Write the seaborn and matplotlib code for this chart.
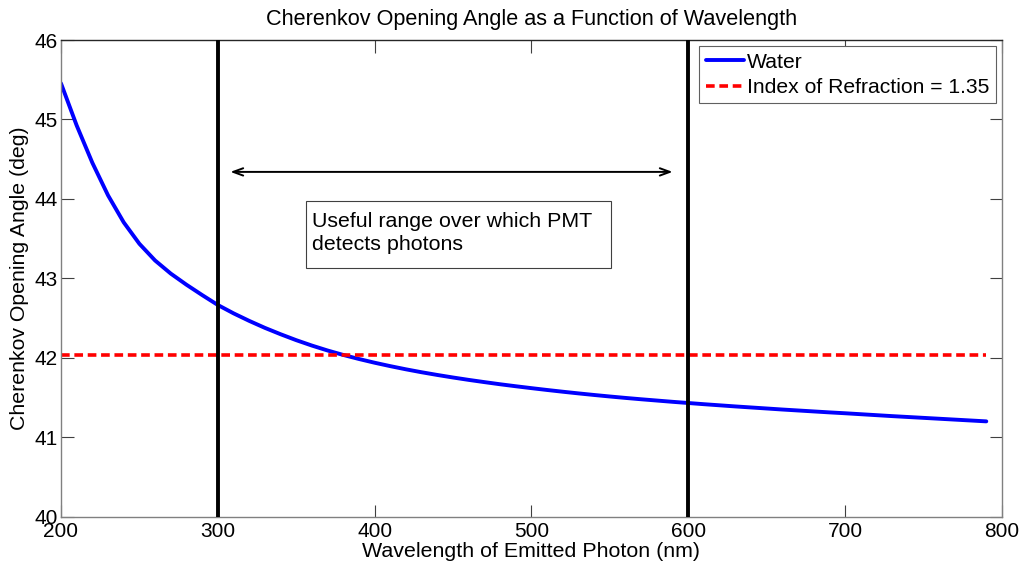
import matplotlib
matplotlib.use("Agg")
import matplotlib.pyplot as plt
from matplotlib.patches import Rectangle
import seaborn as sns
import pandas as pd

# ---- data ----
wavelength = list(range(200, 800, 10))
water_angle = [45.455, 44.925, 44.455, 44.045, 43.705, 43.435, 43.225, 43.060, 42.920, 42.790,
               42.665, 42.560, 42.465, 42.377, 42.297, 42.222, 42.154, 42.092, 42.036, 41.985,
               41.938, 41.895, 41.855, 41.818, 41.784, 41.752, 41.722, 41.694, 41.667, 41.642,
               41.618, 41.595, 41.573, 41.552, 41.532, 41.513, 41.495, 41.478, 41.462, 41.446,
               41.431, 41.416, 41.402, 41.388, 41.375, 41.362, 41.349, 41.337, 41.325, 41.313,
               41.302, 41.290, 41.278, 41.266, 41.255, 41.244, 41.233, 41.222, 41.211, 41.200]
index_angle = [42.03] * len(wavelength)
pmt_limits = [300, 600]
arrow_span = [308, 590]
arrow_y = 44.34
note_xy = (360, 43.36)           # baseline of last text line
note_box = (356, 43.132, 195, 0.847)   # x, y, width, height in data units
xticks = [200, 300, 400, 500, 600, 700, 800]
yticks = [40, 41, 42, 43, 44, 45, 46]

title = "Cherenkov Opening Angle as a Function of Wavelength"
xlabel = "Wavelength of Emitted Photon (nm)"
ylabel = "Cherenkov Opening Angle (deg)"
note = "Useful range over which PMT\ndetects photons"
labels = ["Water", "Index of Refraction = 1.35"]

df = pd.DataFrame({"wavelength": wavelength, "water": water_angle, "index": index_angle})

sns.set_theme(style="white")
plt.rcParams["font.family"] = ["Liberation Sans", "DejaVu Sans"]
plt.rcParams.update({"text.color": "black", "axes.labelcolor": "black",
                     "xtick.color": "black", "ytick.color": "black"})

fig = plt.figure(figsize=(10.30, 5.66), dpi=100)
ax = fig.add_axes([0.0592, 0.0871, 0.9136, 0.8422])

sns.lineplot(data=df, x="wavelength", y="water", ax=ax, color="#0000ff",
             linewidth=2.8, label=labels[0])
sns.lineplot(data=df, x="wavelength", y="index", ax=ax, color="#ff0000",
             linewidth=2.6, label=labels[1])
ax.lines[1].set_dashes((2.4, 1.3))

for xv in pmt_limits:
    ax.axvline(xv, color="black", linewidth=2.8, zorder=3)

ax.annotate("", xy=(arrow_span[0], arrow_y), xytext=(arrow_span[1], arrow_y),
            arrowprops=dict(arrowstyle="<->,head_length=0.6,head_width=0.22",
                            color="black", lw=1.4, shrinkA=0, shrinkB=0))
ax.add_patch(Rectangle((note_box[0], note_box[1]), note_box[2], note_box[3],
                       facecolor="white", edgecolor="#404040", linewidth=0.8,
                       zorder=4))
ax.text(note_xy[0], note_xy[1], note, fontsize=15.4, ha="left", va="baseline",
        linespacing=1.26, zorder=5)

ax.set_xlim(200, 800)
ax.set_ylim(40, 46)
ax.set_xticks(xticks)
ax.set_yticks(yticks)
ax.set_xticklabels([str(v) for v in xticks])
ax.set_yticklabels([str(v) for v in yticks])
ax.tick_params(axis="both", direction="in", length=9, width=0.8, color="#404040",
               labelcolor="black", labelsize=15, top=True, right=True,
               bottom=True, left=True)
ax.tick_params(axis="y", pad=2.5)
ax.tick_params(axis="x", pad=3.5)

for name, sp in ax.spines.items():
    sp.set_visible(True)
    sp.set_linewidth(1.0)
    sp.set_color("#262626" if name == "top" else "#808080")

ax.set_title(title, fontsize=15.6, pad=11, color="black")
ax.set_xlabel(xlabel, fontsize=15.4, labelpad=1)
ax.set_ylabel(ylabel, fontsize=15.3, labelpad=4)

leg = ax.legend(loc="upper right", fontsize=15.2, frameon=True, fancybox=False,
                framealpha=1, edgecolor="#606060", handlelength=1.8,
                handletextpad=0.15, borderpad=0.3, labelspacing=0.3,
                borderaxespad=0.3)
leg.get_frame().set_linewidth(0.8)
for t in leg.get_texts():
    t.set_color("black")

fig.savefig("out.png", dpi=100)
